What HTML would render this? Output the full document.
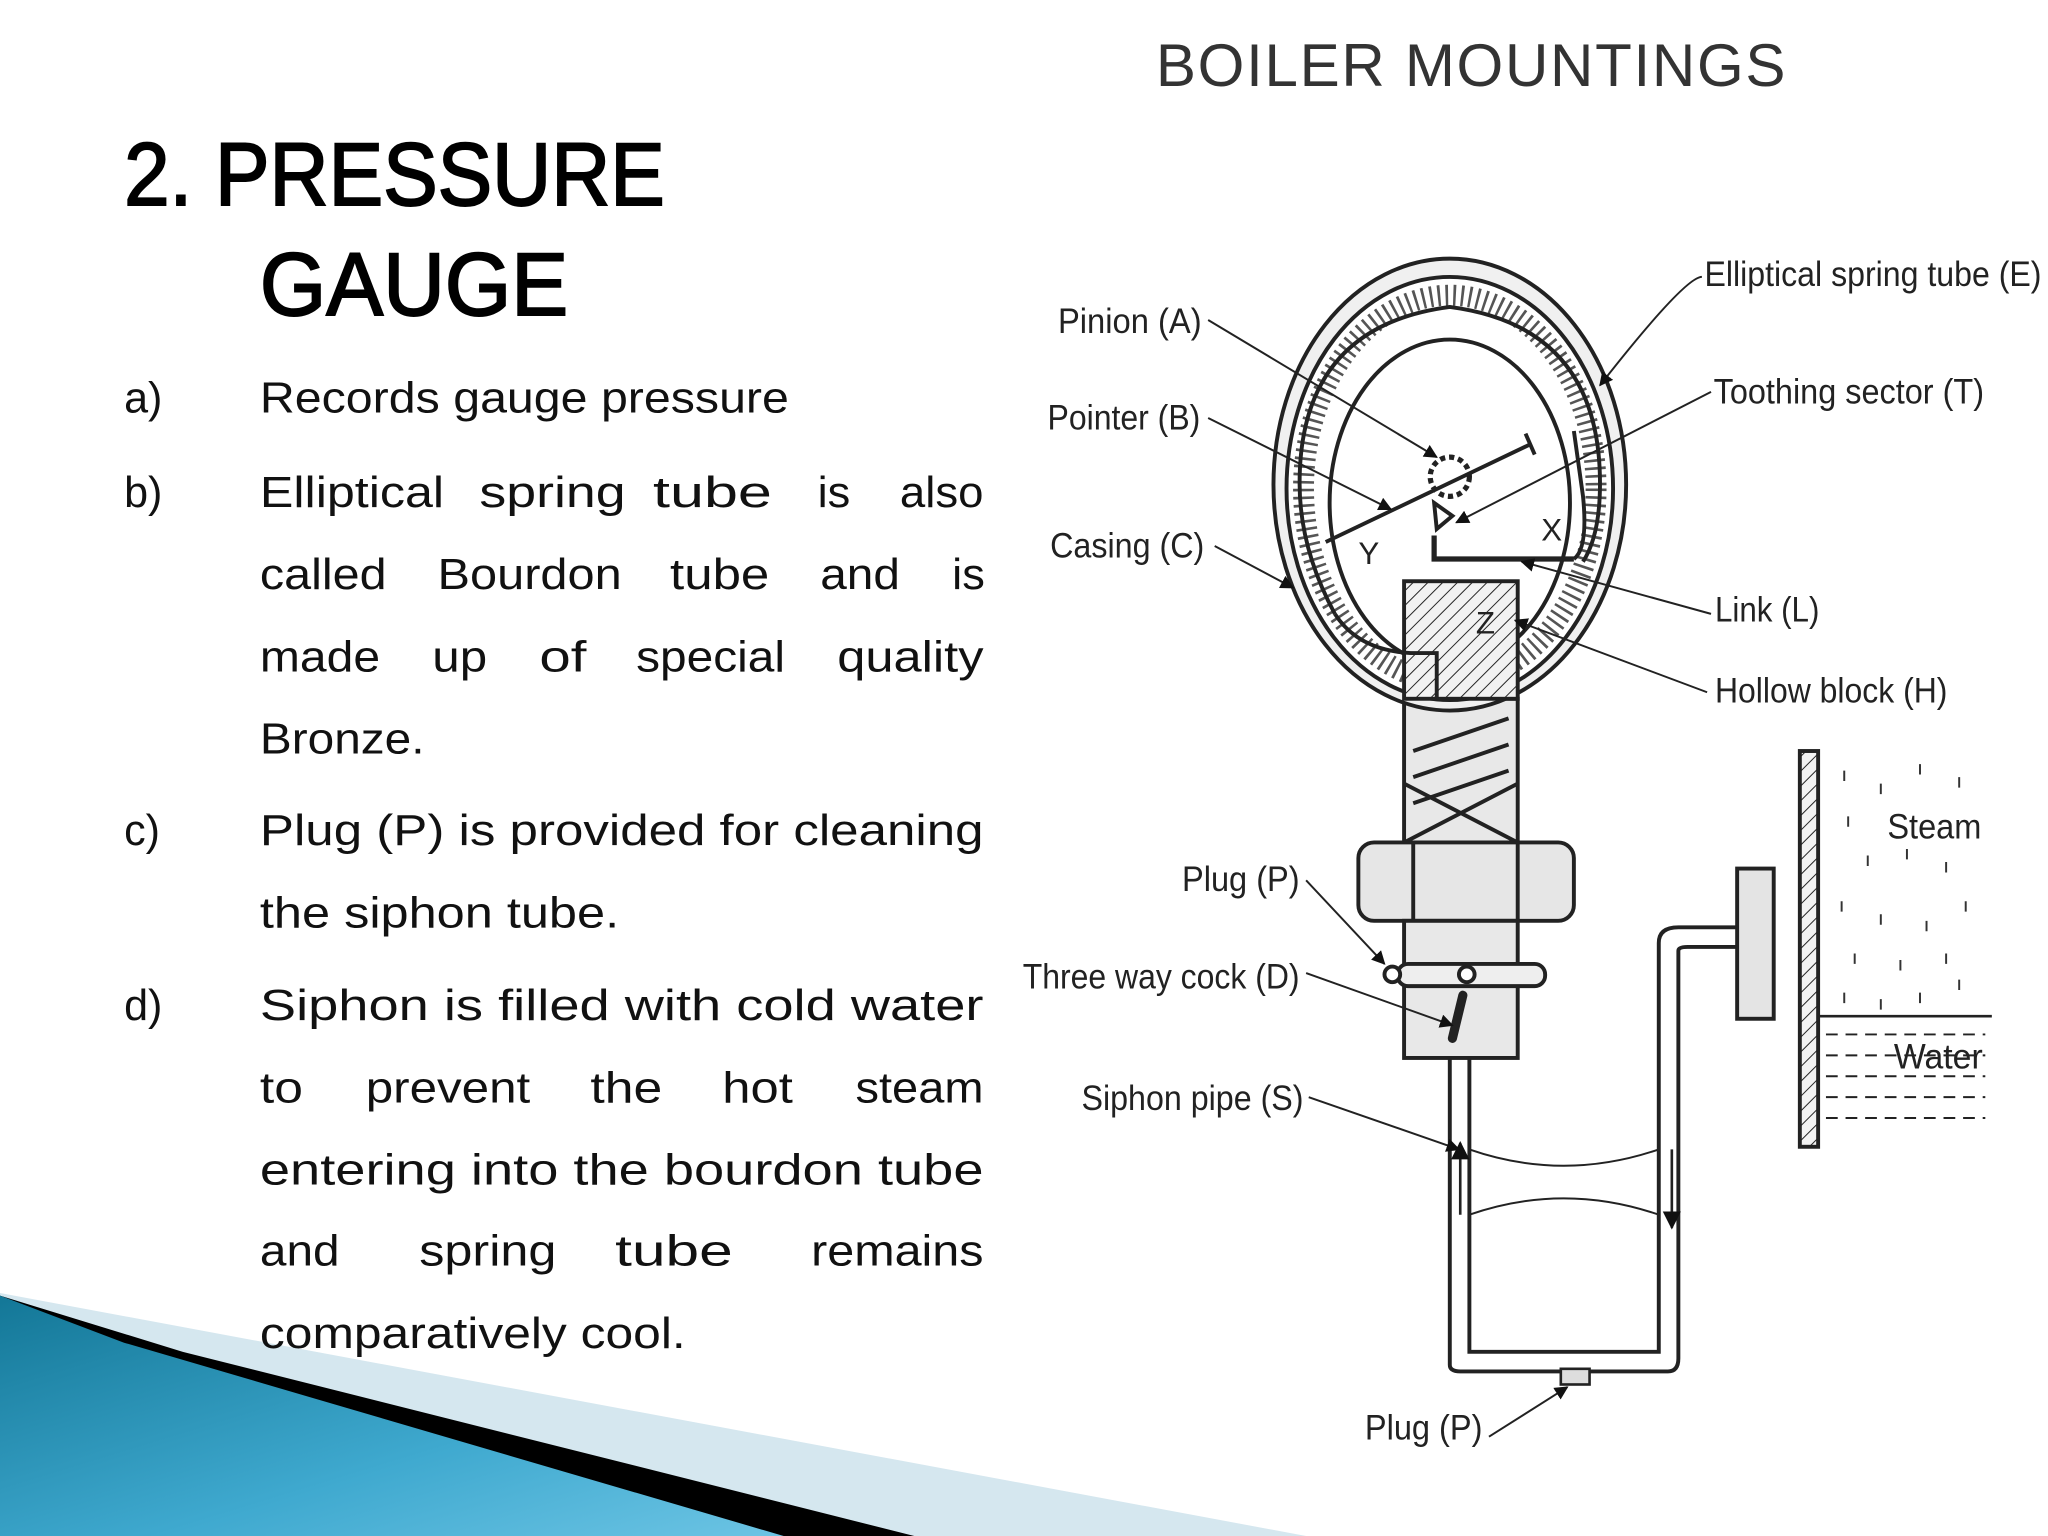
<!DOCTYPE html>
<html><head><meta charset="utf-8"><style>
html,body{margin:0;padding:0;background:#fff;}
svg{display:block;}
</style></head><body>
<svg width="2048" height="1536" viewBox="0 0 1568 1176" xmlns="http://www.w3.org/2000/svg">
<defs>
<linearGradient id="bl" x1="0" y1="0" x2="1" y2="1">
<stop offset="0" stop-color="#137797"/><stop offset="0.6" stop-color="#3fa9cf"/><stop offset="1" stop-color="#6cc4e4"/></linearGradient>
<pattern id="hat" width="8" height="8" patternUnits="userSpaceOnUse" patternTransform="rotate(45)">
<rect width="8" height="8" fill="#f2f2f2"/><line x1="0" y1="0" x2="0" y2="8" stroke="#222" stroke-width="1.5"/></pattern>
<marker id="ar" viewBox="0 0 10 10" refX="9" refY="5" markerWidth="7" markerHeight="7" orient="auto"><path d="M0,0 L10,5 L0,10 z" fill="#111"/></marker>
</defs>
<rect width="1568" height="1176" fill="#fff"/>
<polygon points="0,990 1000,1176 0,1176" fill="#d5e7ef"/>
<polygon points="0,992 140,1035 700,1176 0,1176" fill="#000"/>
<polygon points="0,992 95,1028 600,1176 0,1176" fill="url(#bl)"/>
<text x="885" y="66" font-family="Liberation Sans, sans-serif" font-size="46" fill="#333" textLength="482">BOILER MOUNTINGS</text>
<g font-family="Liberation Sans, sans-serif" font-size="68" fill="#000" stroke="#000" stroke-width="1.5">
<text x="95" y="157" textLength="414" lengthAdjust="spacingAndGlyphs">2. PRESSURE</text>
<text x="199" y="241" textLength="236" lengthAdjust="spacingAndGlyphs">GAUGE</text>
</g>
<g font-family="Liberation Sans, sans-serif" font-size="33" fill="#111">
<text x="95" y="316">a)</text><text x="199" y="316" textLength="405" lengthAdjust="spacingAndGlyphs">Records gauge pressure</text>
<text x="95" y="388">b)</text>
<text y="388"><tspan x="199" textLength="141" lengthAdjust="spacingAndGlyphs">Elliptical</tspan><tspan x="367" textLength="112" lengthAdjust="spacingAndGlyphs">spring</tspan><tspan x="500" textLength="91" lengthAdjust="spacingAndGlyphs">tube</tspan><tspan x="626" textLength="25" lengthAdjust="spacingAndGlyphs">is</tspan><tspan x="689" textLength="64" lengthAdjust="spacingAndGlyphs">also</tspan></text>
<text y="451"><tspan x="199" textLength="97" lengthAdjust="spacingAndGlyphs">called</tspan><tspan x="335" textLength="141" lengthAdjust="spacingAndGlyphs">Bourdon</tspan><tspan x="513" textLength="76" lengthAdjust="spacingAndGlyphs">tube</tspan><tspan x="628" textLength="61" lengthAdjust="spacingAndGlyphs">and</tspan><tspan x="729" textLength="25" lengthAdjust="spacingAndGlyphs">is</tspan></text>
<text y="514"><tspan x="199" textLength="92" lengthAdjust="spacingAndGlyphs">made</tspan><tspan x="331" textLength="42" lengthAdjust="spacingAndGlyphs">up</tspan><tspan x="413" textLength="36" lengthAdjust="spacingAndGlyphs">of</tspan><tspan x="487" textLength="114" lengthAdjust="spacingAndGlyphs">special</tspan><tspan x="641" textLength="112" lengthAdjust="spacingAndGlyphs">quality</tspan></text>
<text x="199" y="577" textLength="126" lengthAdjust="spacingAndGlyphs">Bronze.</text>
<text x="95" y="647">c)</text><text x="199" y="647" textLength="554" lengthAdjust="spacingAndGlyphs">Plug (P) is provided for cleaning</text>
<text x="199" y="710" textLength="275" lengthAdjust="spacingAndGlyphs">the siphon tube.</text>
<text x="95" y="781">d)</text><text x="199" y="781" textLength="554" lengthAdjust="spacingAndGlyphs">Siphon is filled with cold water</text>
<text y="844"><tspan x="199" textLength="33" lengthAdjust="spacingAndGlyphs">to</tspan><tspan x="280" textLength="126" lengthAdjust="spacingAndGlyphs">prevent</tspan><tspan x="452" textLength="55" lengthAdjust="spacingAndGlyphs">the</tspan><tspan x="553" textLength="54" lengthAdjust="spacingAndGlyphs">hot</tspan><tspan x="655" textLength="98" lengthAdjust="spacingAndGlyphs">steam</tspan></text>
<text x="199" y="907" textLength="554" lengthAdjust="spacingAndGlyphs">entering into the bourdon tube</text>
<text y="969"><tspan x="199" textLength="61" lengthAdjust="spacingAndGlyphs">and</tspan><tspan x="321" textLength="105" lengthAdjust="spacingAndGlyphs">spring</tspan><tspan x="471" textLength="90" lengthAdjust="spacingAndGlyphs">tube</tspan><tspan x="621" textLength="132" lengthAdjust="spacingAndGlyphs">remains</tspan></text>
<text x="199" y="1032" textLength="326" lengthAdjust="spacingAndGlyphs">comparatively cool.</text>
</g>
<g stroke="#222" stroke-width="3" fill="none">
<path d="M1110,810 V1045 Q1110,1050 1118,1050 H1277 Q1285,1050 1285,1040 V728 Q1285,725 1292,725 H1335" stroke-width="3"/>
<path d="M1125,810 V1035 H1270 V722 Q1270,710 1285,710 H1335"/>
<path d="M1125,880 Q1197,905 1270,880 M1125,930 Q1197,905 1270,930" stroke-width="1.5"/>
<line x1="1118" y1="930" x2="1118" y2="875" marker-end="url(#ar)" stroke-width="2"/>
<line x1="1280" y1="880" x2="1280" y2="940" marker-end="url(#ar)" stroke-width="2"/>
<rect x="1195" y="1048" width="22" height="12" fill="#ddd" stroke-width="2"/>
<rect x="1330" y="665" width="28" height="115" fill="#e4e4e4"/>
<rect x="1378" y="575" width="14" height="303" fill="url(#hat)"/>
<line x1="1392" y1="778" x2="1525" y2="778" stroke-width="2"/>
<g stroke-width="1.5" stroke-dasharray="9,6">
<line x1="1398" y1="792" x2="1520" y2="792"/><line x1="1398" y1="808" x2="1520" y2="808"/>
<line x1="1398" y1="824" x2="1520" y2="824"/><line x1="1398" y1="840" x2="1520" y2="840"/><line x1="1398" y1="856" x2="1520" y2="856"/></g>
<rect x="1075" y="535" width="87" height="110" fill="#e8e8e8"/>
<path d="M1082,575 L1155,550 M1082,595 L1155,570 M1082,615 L1155,590" stroke-width="3"/>
<path d="M1075,600 L1162,645 M1162,600 L1075,645"/>
<rect x="1040" y="645" width="165" height="60" rx="12" fill="#e6e6e6"/>
<line x1="1082" y1="645" x2="1082" y2="705"/><line x1="1162" y1="645" x2="1162" y2="705"/>
<rect x="1075" y="705" width="87" height="105" fill="#e8e8e8"/>
<rect x="1070" y="738" width="113" height="17" rx="8" fill="#eee"/>
<circle cx="1066" cy="746" r="6" fill="#fff"/>
<circle cx="1123" cy="746" r="6" fill="#fff"/>
<line x1="1120" y1="762" x2="1112" y2="795" stroke-width="7" stroke-linecap="round"/>
<ellipse cx="1110" cy="371" rx="135" ry="173" fill="#f0f0f0"/>
<ellipse cx="1110" cy="374" rx="125" ry="162" fill="#fff"/>
<ellipse cx="1110" cy="374" rx="112" ry="148" stroke-dasharray="2,4" stroke-width="16" stroke="#555"/>
<path d="M1022,470 Q995,420 995,370 Q995,250 1110,235 Q1225,250 1225,370 Q1225,410 1212,430" stroke-width="3"/>
<ellipse cx="1110" cy="385" rx="92" ry="125" fill="#fff"/>
<rect x="1075" y="445" width="87" height="90" fill="url(#hat)"/>
<path d="M1022,470 Q1040,498 1080,500 H1100 V535" stroke-width="3"/>
<circle cx="1110" cy="365" r="15" stroke-dasharray="4,3" stroke-width="4"/>
<line x1="1015" y1="415" x2="1172" y2="340" stroke-width="3"/>
<line x1="1168" y1="332" x2="1175" y2="348" stroke-width="3"/>
<path d="M1098,385 L1100,405 L1112,395 Z" />
<path d="M1098,410 V428 H1205" stroke-width="4"/>
<path d="M1205,428 Q1216,420 1212,380 L1205,330" stroke-width="3"/>
</g>
<g font-family="Liberation Sans, sans-serif" font-size="24" fill="#222">
<text x="1040" y="432">Y</text><text x="1180" y="414">X</text><text x="1130" y="485">Z</text>
</g>
<g stroke="#222" stroke-width="1.5" fill="none" marker-end="url(#ar)">
<path d="M925,245 L1100,350"/>
<path d="M925,320 L1065,390"/>
<path d="M930,418 L990,450"/>
<path d="M1303,212 Q1290,212 1225,295"/>
<path d="M1310,300 L1115,400"/>
<path d="M1310,470 L1165,430"/>
<path d="M1307,530 L1160,475"/>
<path d="M1000,674 L1060,738"/>
<path d="M1000,745 L1112,785"/>
<path d="M1002,840 L1117,880"/>
<path d="M1140,1100 L1200,1062"/>
</g>
<g font-family="Liberation Sans, sans-serif" font-size="27" fill="#222">
<text x="810" y="255" textLength="110" lengthAdjust="spacingAndGlyphs">Pinion (A)</text>
<text x="802" y="329" textLength="117" lengthAdjust="spacingAndGlyphs">Pointer (B)</text>
<text x="804" y="427" textLength="118" lengthAdjust="spacingAndGlyphs">Casing (C)</text>
<text x="1305" y="219" textLength="258" lengthAdjust="spacingAndGlyphs">Elliptical spring tube (E)</text>
<text x="1312" y="309" textLength="207" lengthAdjust="spacingAndGlyphs">Toothing sector (T)</text>
<text x="1313" y="476" textLength="80" lengthAdjust="spacingAndGlyphs">Link (L)</text>
<text x="1313" y="538" textLength="178" lengthAdjust="spacingAndGlyphs">Hollow block (H)</text>
<text x="905" y="682" textLength="90" lengthAdjust="spacingAndGlyphs">Plug (P)</text>
<text x="783" y="757" textLength="212" lengthAdjust="spacingAndGlyphs">Three way cock (D)</text>
<text x="828" y="850" textLength="170" lengthAdjust="spacingAndGlyphs">Siphon pipe (S)</text>
<text x="1045" y="1102" textLength="90" lengthAdjust="spacingAndGlyphs">Plug (P)</text>
<text x="1445" y="642" textLength="72" lengthAdjust="spacingAndGlyphs">Steam</text>
<text x="1450" y="818" textLength="68" lengthAdjust="spacingAndGlyphs">Water</text>
</g>
<g stroke="#333" stroke-width="1.5">
<path d="M1412,590v8M1440,600v8M1470,585v8M1500,595v8M1415,625v8M1430,655v8M1460,650v8M1490,660v8M1505,690v8M1410,690v8M1440,700v8M1475,705v8M1420,730v8M1455,735v8M1490,730v8M1500,750v8M1412,760v8M1440,765v8M1470,760v8"/>
</g>
</svg>
</body></html>
